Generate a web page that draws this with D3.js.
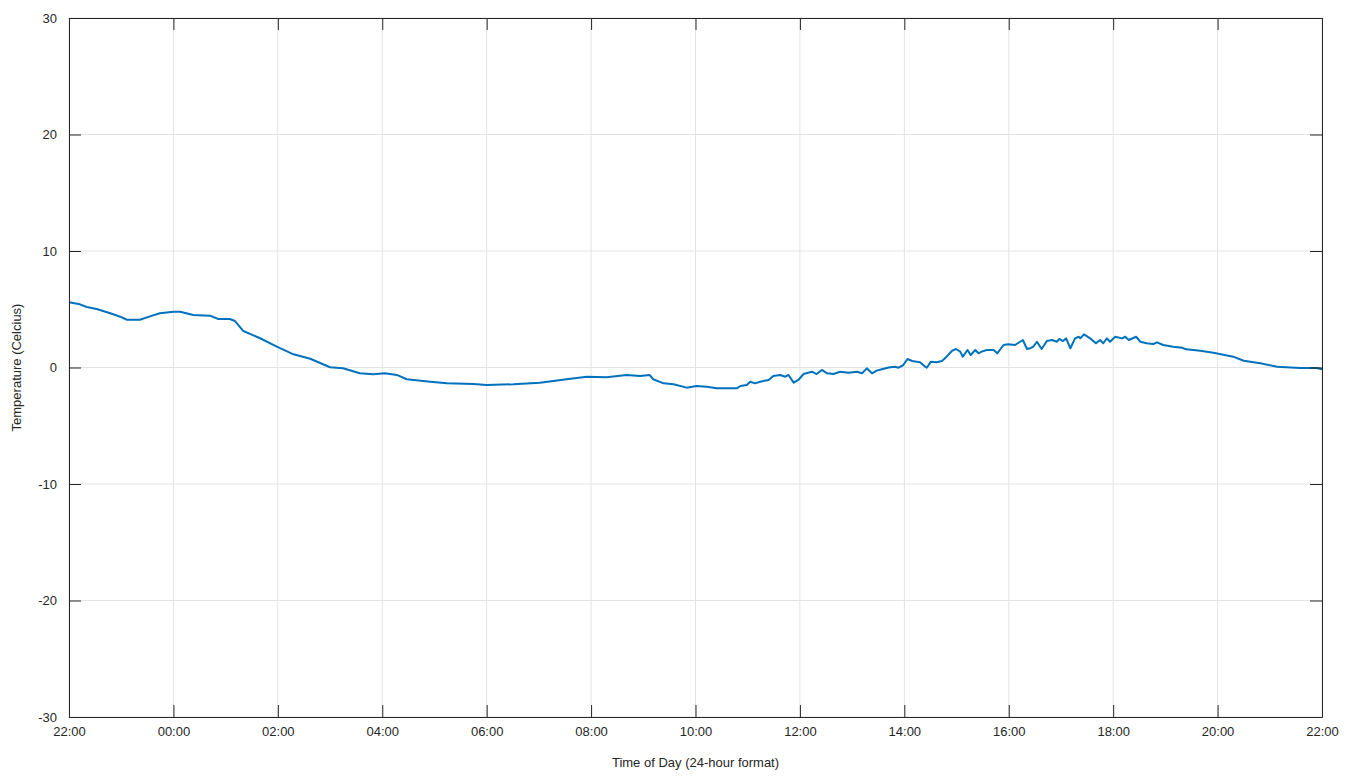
<!DOCTYPE html>
<html>
<head>
<meta charset="utf-8">
<script src="https://cdn.jsdelivr.net/npm/d3@7"></script>
<style>
  html, body { margin: 0; padding: 0; background: #fff; }
  svg { display: block; font-family: "Liberation Sans", Arial, Helvetica, sans-serif; }
</style>
</head>
<body>
<svg id="chart" width="1345" height="776"></svg>
<script>
// Hours elapsed since 22:00 (start of record)
const hours = [0, 0.21, 0.34, 0.53, 0.79, 0.98, 1.11, 1.36, 1.55, 1.74, 2.0, 2.13, 2.38, 2.7, 2.86, 3.08, 3.18, 3.34, 3.66, 3.98, 4.3, 4.55, 4.62, 5.0, 5.25, 5.57, 5.83, 6.05, 6.28, 6.47, 6.92, 7.24, 7.75, 8.0, 8.51, 9.02, 9.53, 9.92, 10.3, 10.68, 10.94, 11.12, 11.19, 11.39, 11.58, 11.83, 12.02, 12.22, 12.41, 12.6, 12.79, 12.86, 12.98, 13.05, 13.14, 13.24, 13.4, 13.49, 13.62, 13.72, 13.78, 13.88, 13.97, 14.07, 14.23, 14.32, 14.42, 14.52, 14.64, 14.77, 14.93, 15.09, 15.19, 15.28, 15.38, 15.47, 15.57, 15.7, 15.82, 15.89, 15.98, 16.06, 16.15, 16.3, 16.4, 16.43, 16.51, 16.62, 16.72, 16.81, 16.91, 16.99, 17.07, 17.12, 17.21, 17.27, 17.36, 17.42, 17.48, 17.58, 17.71, 17.78, 17.9, 17.99, 18.12, 18.27, 18.35, 18.41, 18.47, 18.54, 18.63, 18.73, 18.83, 18.92, 18.97, 19.04, 19.1, 19.18, 19.27, 19.34, 19.37, 19.44, 19.56, 19.67, 19.75, 19.81, 19.88, 19.94, 20.04, 20.17, 20.23, 20.3, 20.44, 20.52, 20.64, 20.77, 20.84, 20.96, 21.15, 21.32, 21.4, 21.67, 21.92, 22.3, 22.5, 22.82, 23.14, 23.58, 23.9, 24];
// Temperature (Celsius)
const temps = [5.6, 5.42, 5.19, 5.02, 4.65, 4.36, 4.1, 4.1, 4.39, 4.65, 4.79, 4.79, 4.51, 4.45, 4.16, 4.16, 3.99, 3.13, 2.51, 1.79, 1.13, 0.84, 0.75, 0.02, -0.07, -0.5, -0.58, -0.5, -0.64, -1.01, -1.22, -1.36, -1.42, -1.5, -1.44, -1.3, -1.01, -0.79, -0.84, -0.64, -0.73, -0.64, -1.01, -1.36, -1.44, -1.73, -1.59, -1.65, -1.79, -1.79, -1.79, -1.59, -1.5, -1.22, -1.36, -1.22, -1.07, -0.73, -0.64, -0.79, -0.64, -1.3, -1.07, -0.56, -0.36, -0.56, -0.21, -0.5, -0.56, -0.36, -0.45, -0.36, -0.5, -0.07, -0.5, -0.27, -0.15, 0.0, 0.07, -0.02, 0.21, 0.73, 0.56, 0.45, 0.07, -0.02, 0.5, 0.45, 0.56, 0.93, 1.42, 1.59, 1.36, 0.93, 1.5, 1.07, 1.5, 1.22, 1.36, 1.5, 1.5, 1.22, 1.93, 1.99, 1.93, 2.36, 1.59, 1.65, 1.79, 2.21, 1.59, 2.27, 2.36, 2.21, 2.45, 2.27, 2.5, 1.65, 2.5, 2.64, 2.5, 2.85, 2.5, 2.08, 2.36, 2.08, 2.5, 2.21, 2.64, 2.5, 2.64, 2.36, 2.64, 2.21, 2.08, 2.02, 2.16, 1.93, 1.79, 1.7, 1.56, 1.44, 1.27, 0.93, 0.58, 0.36, 0.07, -0.04, -0.04, -0.15];

const xTickValues = [0, 2, 4, 6, 8, 10, 12, 14, 16, 18, 20, 22, 24];
const xTickLabels = ["22:00", "00:00", "02:00", "04:00", "06:00", "08:00", "10:00", "12:00", "14:00", "16:00", "18:00", "20:00", "22:00"];
const yTickValues = [-30, -20, -10, 0, 10, 20, 30];
const yTickLabels = ["-30", "-20", "-10", "0", "10", "20", "30"];

const xLabel = "Time of Day (24-hour format)";
const yLabel = "Temperature (Celcius)";

const data = hours.map((h, i) => ({ h, t: temps[i] }));

const svg = d3.select("#chart");
const L = 69, R = 1322, T = 18, B = 717;
const x = d3.scaleLinear().domain([0, 24]).range([L, R]);
const y = d3.scaleLinear().domain([-30, 30]).range([B, T]);

const gridColor = "#e3e3e3";
const axisColor = "#262626";
const tickLen = 12;

// grid
const grid = svg.append("g");
grid.selectAll("line.gx").data(xTickValues).join("line")
  .attr("x1", d => x(d)).attr("x2", d => x(d))
  .attr("y1", T).attr("y2", B)
  .attr("stroke", gridColor).attr("stroke-width", 1);
grid.selectAll("line.gy").data(yTickValues).join("line")
  .attr("x1", L).attr("x2", R)
  .attr("y1", d => y(d)).attr("y2", d => y(d))
  .attr("stroke", gridColor).attr("stroke-width", 1);

// line
svg.append("path")
  .datum(data)
  .attr("fill", "none")
  .attr("stroke", "#0072BD")
  .attr("stroke-width", 2)
  .attr("stroke-linejoin", "round")
  .attr("d", d3.line().x(d => x(d.h)).y(d => y(d.t)));

// axes (MATLAB style: inward ticks on all four sides)
const xb = svg.append("g").attr("transform", `translate(0,${B})`)
  .call(d3.axisBottom(x).tickValues(xTickValues).tickFormat((d, i) => xTickLabels[i]).tickSizeInner(-tickLen).tickSizeOuter(0).tickPadding(10));
const xt = svg.append("g").attr("transform", `translate(0,${T})`)
  .call(d3.axisTop(x).tickValues(xTickValues).tickFormat("").tickSizeInner(-tickLen).tickSizeOuter(0));
const yl = svg.append("g").attr("transform", `translate(${L},0)`)
  .call(d3.axisLeft(y).tickValues(yTickValues).tickFormat((d, i) => yTickLabels[i]).tickSizeInner(-tickLen).tickSizeOuter(0).tickPadding(12));
const yr = svg.append("g").attr("transform", `translate(${R},0)`)
  .call(d3.axisRight(y).tickValues(yTickValues).tickFormat("").tickSizeInner(-tickLen).tickSizeOuter(0));

[xb, xt, yl, yr].forEach(g => {
  g.select(".domain").attr("stroke", axisColor).attr("stroke-width", 1);
  g.selectAll(".tick line").attr("stroke", axisColor).attr("stroke-width", 1);
  g.selectAll("text").attr("fill", "#262626").style("font-size", "13px")
    .style("font-family", "'Liberation Sans', Arial, Helvetica, sans-serif");
});

// axis labels
svg.append("text")
  .attr("x", (L + R) / 2).attr("y", 767)
  .attr("text-anchor", "middle")
  .attr("fill", "#262626")
  .style("font-size", "13px")
  .text(xLabel);
svg.append("text")
  .attr("transform", `translate(21,${(T + B) / 2}) rotate(-90)`)
  .attr("text-anchor", "middle")
  .attr("fill", "#262626")
  .style("font-size", "13px")
  .text(yLabel);
</script>
</body>
</html>
